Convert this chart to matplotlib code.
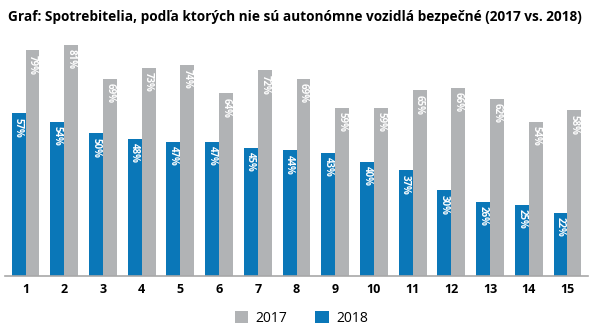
import numpy as np
import matplotlib.pyplot as plt

plt.rcParams['font.family'] = ['Open Sans', 'DejaVu Sans']

kategorie = [str(i) for i in range(1, 16)]
hodnoty_2017 = [79, 81, 69, 73, 74, 64, 72, 69, 59, 59, 65, 66, 62, 54, 58]
hodnoty_2018 = [57, 54, 50, 48, 47, 47, 45, 44, 43, 40, 37, 30, 26, 25, 22]

modra = '#0a77b8'
siva = '#b1b3b5'

fig = plt.figure(figsize=(6.06, 3.29), dpi=100)
ax = fig.add_axes([5 / 606, 53 / 329, 583 / 606, 257 / 329])

x = np.arange(len(kategorie))
w = 0.36
b18 = ax.bar(x - w / 2, hodnoty_2018, w, color=modra, label='2018')
b17 = ax.bar(x + w / 2, hodnoty_2017, w, color=siva, label='2017')

for bars, vals in ((b18, hodnoty_2018), (b17, hodnoty_2017)):
    for r, v in zip(bars, vals):
        ax.text(r.get_x() + r.get_width() / 2, v - 1.5, f'{v}%', rotation=270,
                ha='center', va='top', color='white', fontsize=7, fontweight='bold')

ax.set_xlim(-0.53, 14.53)
ax.set_ylim(0, 90)
ax.set_xticks(x)
ax.set_xticklabels(kategorie, fontsize=9, fontweight='bold')
ax.tick_params(axis='x', length=0, pad=5)
ax.set_yticks([])
for s in ('top', 'right', 'left'):
    ax.spines[s].set_visible(False)
ax.spines['bottom'].set_color('#a8a8a8')
ax.spines['bottom'].set_linewidth(1.2)

fig.text(8 / 606, 1 - 17 / 329, 'Graf: Spotrebitelia, podľa ktorých nie sú autonómne vozidlá bezpečné (2017 vs. 2018)',
         fontsize=9.8, fontweight='bold', va='center', ha='left')

fig.legend(handles=[b17, b18], labels=['2017', '2018'], loc='center', bbox_to_anchor=(0.497, 1 - 318 / 329),
           ncol=2, frameon=False, fontsize=10, handlelength=1.0, handleheight=1.0, columnspacing=2.0,
           handletextpad=0.5)

fig.savefig('out.png', dpi=100)
